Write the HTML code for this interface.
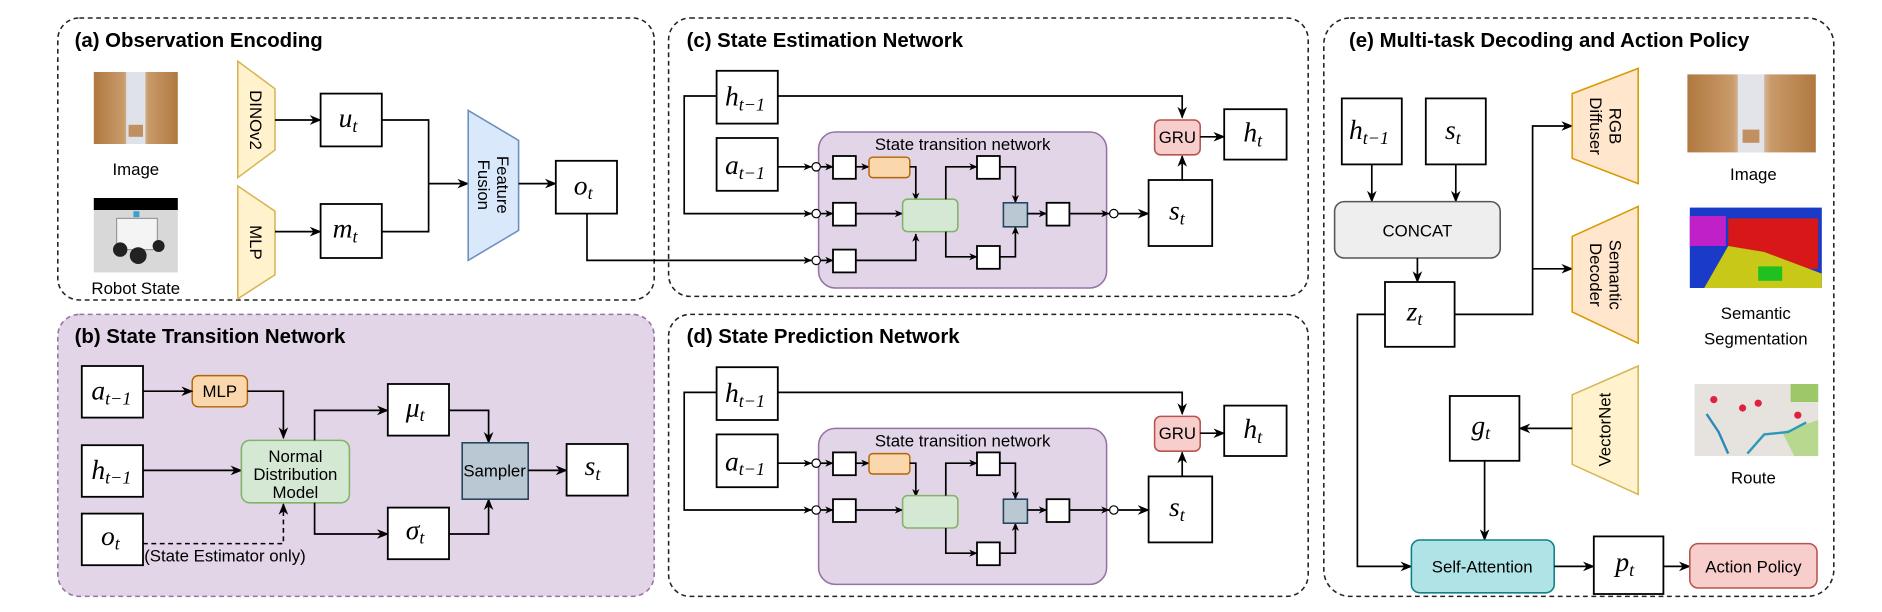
<!DOCTYPE html>
<html><head><meta charset="utf-8"><style>
html,body{margin:0;padding:0;background:#fff;}
svg{display:block;}
.t{font-family:"Liberation Sans",sans-serif;font-weight:bold;font-size:17px;fill:#000;}
.l{font-family:"Liberation Sans",sans-serif;font-size:14px;fill:#000;}
.m{font-family:"Liberation Serif",serif;font-style:italic;font-size:23px;fill:#000;}
.s{font-size:15px;}
.bx{fill:#fff;stroke:#000;stroke-width:1.5;}
.ln{fill:none;stroke:#000;stroke-width:1.4;}
</style></head><body>
<svg width="1882" height="612" viewBox="0 0 1568 510" xmlns="http://www.w3.org/2000/svg">
<defs>
<marker id="a" markerWidth="10" markerHeight="10" refX="9" refY="5" orient="auto" markerUnits="userSpaceOnUse">
<path d="M0,1 L10,5 L0,9 L3,5 Z" fill="#000"/></marker>
<marker id="sa" markerWidth="7" markerHeight="7" refX="6.5" refY="3.5" orient="auto" markerUnits="userSpaceOnUse">
<path d="M0,0.5 L7,3.5 L0,6.5 L2,3.5 Z" fill="#000"/></marker>
<linearGradient id="wh" x1="0" x2="1"><stop offset="0" stop-color="#b07840"/><stop offset="0.35" stop-color="#c99a6a"/><stop offset="0.5" stop-color="#e8eaee"/><stop offset="0.65" stop-color="#c99a6a"/><stop offset="1" stop-color="#b07840"/></linearGradient>
</defs>

<!-- Panel a -->
<rect x="48" y="15" width="497" height="235" rx="18" fill="none" stroke="#222" stroke-width="1.3" stroke-dasharray="4 3"/>
<text class="t" x="62" y="39">(a) Observation Encoding</text>
<rect x="78" y="60" width="70" height="60" fill="url(#wh)"/>
<rect x="105" y="60" width="16" height="60" fill="#dfe2e8"/>
<rect x="107" y="104" width="12" height="10" fill="#c09060"/>
<text class="l" x="113" y="146" text-anchor="middle" font-size="15">Image</text>
<rect x="78" y="165" width="70" height="62" fill="#d8d8d8"/>
<rect x="78" y="165" width="70" height="10" fill="#000"/>
<rect x="97" y="182" width="34" height="26" fill="#f4f4f4" stroke="#999"/>
<circle cx="100" cy="208" r="6" fill="#222"/><circle cx="115" cy="213" r="7" fill="#222"/><circle cx="132" cy="205" r="5" fill="#222"/>
<rect x="111" y="176" width="5" height="5" fill="#3aa0d0"/>
<text class="l" x="113" y="245" text-anchor="middle" font-size="15">Robot State</text>

<polygon points="198,51 229,74 229,125 198,148" fill="#fff2cc" stroke="#d6b656" stroke-width="1.3"/>
<text class="l" transform="translate(213,100) rotate(90)" text-anchor="middle" dy="5">DINOv2</text>
<polygon points="198,155 229,176 229,229 198,249" fill="#fff2cc" stroke="#d6b656" stroke-width="1.3"/>
<text class="l" transform="translate(213,202) rotate(90)" text-anchor="middle" dy="5">MLP</text>
<line class="ln" x1="229" y1="100" x2="267" y2="100" marker-end="url(#a)"/>
<line class="ln" x1="229" y1="193" x2="267" y2="193" marker-end="url(#a)"/>
<rect class="bx" x="267" y="78" width="51" height="44"/>
<text class="m" x="282" y="106">u<tspan class="s" dy="4">t</tspan></text>
<rect class="bx" x="267" y="170" width="51" height="45"/>
<text class="m" x="277" y="198">m<tspan class="s" dy="4">t</tspan></text>
<polyline class="ln" points="318,100 357,100 357,193 318,193"/>
<line class="ln" x1="357" y1="153" x2="390" y2="153" marker-end="url(#a)"/>
<polygon points="390,92 432,117 432,192 390,217" fill="#dae8fc" stroke="#6c8ebf" stroke-width="1.3"/>
<text class="l" transform="translate(411,154) rotate(90)" text-anchor="middle"><tspan x="0" dy="-3">Feature</tspan><tspan x="0" dy="16">Fusion</tspan></text>
<line class="ln" x1="432" y1="153" x2="463" y2="153" marker-end="url(#a)"/>
<rect class="bx" x="463" y="134" width="51" height="44"/>
<text class="m" x="478" y="162">o<tspan class="s" dy="4">t</tspan></text>
<polyline class="ln" points="489,178 489,217 676,217" marker-end="url(#sa)"/>

<!-- Panel b -->
<rect x="48" y="262" width="497" height="235" rx="18" fill="#e1d5e7" stroke="#9673a6" stroke-width="1.3" stroke-dasharray="4 3"/>
<text class="t" x="62" y="286">(b) State Transition Network</text>
<rect class="bx" x="68" y="305" width="51" height="43"/>
<text class="m" x="76" y="333">a<tspan class="s" dy="4">t−1</tspan></text>
<rect class="bx" x="68" y="371" width="51" height="43"/>
<text class="m" x="76" y="399">h<tspan class="s" dy="4">t−1</tspan></text>
<rect class="bx" x="68" y="428" width="51" height="43"/>
<text class="m" x="84" y="454">o<tspan class="s" dy="4">t</tspan></text>
<rect x="160" y="313" width="46" height="26" rx="5" fill="#fad7ac" stroke="#b46504" stroke-width="1.2"/>
<text class="l" x="183" y="331" text-anchor="middle">MLP</text>
<line class="ln" x1="119" y1="326" x2="160" y2="326" marker-end="url(#a)"/>
<polyline class="ln" points="206,326 236,326 236,365" marker-end="url(#a)"/>
<line class="ln" x1="119" y1="392" x2="201" y2="392" marker-end="url(#a)"/>
<polyline fill="none" stroke="#000" stroke-width="1.3" stroke-dasharray="4 3" points="119,453 236,453 236,420" marker-end="url(#a)"/>
<text class="l" x="120" y="468" font-size="13">(State Estimator only)</text>
<rect x="201" y="367" width="90" height="52" rx="7" fill="#d5e8d4" stroke="#82b366" stroke-width="1.3"/>
<text class="l" x="246" y="385" text-anchor="middle">Normal</text>
<text class="l" x="246" y="400" text-anchor="middle">Distribution</text>
<text class="l" x="246" y="415" text-anchor="middle">Model</text>
<polyline class="ln" points="262,367 262,342 323,342" marker-end="url(#a)"/>
<polyline class="ln" points="262,419 262,445 323,445" marker-end="url(#a)"/>
<rect class="bx" x="323" y="320" width="51" height="43"/>
<text class="m" x="338" y="347">μ<tspan class="s" dy="4">t</tspan></text>
<rect class="bx" x="323" y="423" width="51" height="43"/>
<text class="m" x="338" y="449">σ<tspan class="s" dy="4">t</tspan></text>
<polyline class="ln" points="374,342 407,342 407,369" marker-end="url(#a)"/>
<polyline class="ln" points="374,445 407,445 407,416" marker-end="url(#a)"/>
<rect x="385" y="369" width="55" height="47" fill="#bac8d3" stroke="#23445d" stroke-width="1.3"/>
<text class="l" x="412" y="397" text-anchor="middle">Sampler</text>
<line class="ln" x1="440" y1="392" x2="472" y2="392" marker-end="url(#a)"/>
<rect class="bx" x="472" y="370" width="51" height="43"/>
<text class="m" x="487" y="396">s<tspan class="s" dy="4">t</tspan></text>

<!-- Panel c -->
<rect x="557" y="15" width="533" height="232" rx="18" fill="none" stroke="#222" stroke-width="1.3" stroke-dasharray="4 3"/>
<text class="t" x="572" y="39">(c) State Estimation Network</text>
<g id="net">
<rect class="bx" x="597" y="59" width="51" height="44"/>
<text class="m" x="604" y="88">h<tspan class="s" dy="4">t−1</tspan></text>
<rect class="bx" x="597" y="115" width="51" height="44"/>
<text class="m" x="604" y="145">a<tspan class="s" dy="4">t−1</tspan></text>
<polyline class="ln" points="648,80 985,80 985,98" marker-end="url(#a)"/>
<rect x="682" y="110" width="240" height="130" rx="14" fill="#e1d5e7" stroke="#9673a6" stroke-width="1.3"/>
<text class="l" x="802" y="125" text-anchor="middle" font-size="13">State transition network</text>
<line class="ln" x1="648" y1="139" x2="676" y2="139" marker-end="url(#sa)"/>
<circle cx="680" cy="139" r="3.5" fill="#fff" stroke="#000"/>
<line class="ln" x1="684" y1="139" x2="694" y2="139" marker-end="url(#sa)"/>
<rect class="bx" x="694" y="130" width="19" height="19"/>
<line class="ln" x1="713" y1="139" x2="724" y2="139" marker-end="url(#sa)"/>
<rect x="724" y="131" width="34" height="17" rx="3" fill="#fad7ac" stroke="#b46504" stroke-width="1.2"/>
<polyline class="ln" points="758,139 763,139 763,167" marker-end="url(#sa)"/>
<line class="ln" x1="684" y1="178" x2="694" y2="178" marker-end="url(#sa)"/>
<rect class="bx" x="694" y="169" width="19" height="19"/>
<line class="ln" x1="713" y1="178" x2="752" y2="178" marker-end="url(#sa)"/>
<rect x="752" y="166" width="46" height="27" rx="4" fill="#d5e8d4" stroke="#82b366" stroke-width="1.3"/>
<polyline class="ln" points="788,166 788,139 814,139" marker-end="url(#sa)"/>
<polyline class="ln" points="788,193 788,214 814,214" marker-end="url(#sa)"/>
<rect class="bx" x="814" y="130" width="19" height="19"/>
<rect class="bx" x="814" y="205" width="19" height="19"/>
<polyline class="ln" points="833,139 846,139 846,169" marker-end="url(#sa)"/>
<polyline class="ln" points="833,214 846,214 846,189" marker-end="url(#sa)"/>
<rect x="836" y="169" width="20" height="20" fill="#bac8d3" stroke="#23445d" stroke-width="1.3"/>
<line class="ln" x1="856" y1="178" x2="872" y2="178" marker-end="url(#sa)"/>
<rect class="bx" x="872" y="169" width="19" height="19"/>
<line class="ln" x1="891" y1="178" x2="924" y2="178" marker-end="url(#sa)"/>
<circle cx="928" cy="178" r="3.5" fill="#fff" stroke="#000"/>
<line class="ln" x1="932" y1="178" x2="957" y2="178" marker-end="url(#a)"/>
<rect class="bx" x="957" y="150" width="53" height="55"/>
<text class="m" x="974" y="183">s<tspan class="s" dy="4">t</tspan></text>
<line class="ln" x1="985" y1="150" x2="985" y2="130" marker-end="url(#a)"/>
<rect x="962" y="100" width="38" height="29" rx="5" fill="#f8cecc" stroke="#b85450" stroke-width="1.3"/>
<text class="l" x="981" y="119" text-anchor="middle">GRU</text>
<line class="ln" x1="1000" y1="114" x2="1020" y2="114" marker-end="url(#a)"/>
<rect class="bx" x="1020" y="91" width="52" height="42"/>
<text class="m" x="1036" y="118">h<tspan class="s" dy="4">t</tspan></text>
</g>
<polyline class="ln" points="597,80 570,80 570,178 676,178" marker-end="url(#sa)"/>
<circle cx="680" cy="178" r="3.5" fill="#fff" stroke="#000"/>
<circle cx="680" cy="217" r="3.5" fill="#fff" stroke="#000"/>
<line class="ln" x1="684" y1="217" x2="694" y2="217" marker-end="url(#sa)"/>
<rect class="bx" x="694" y="208" width="19" height="19"/>
<polyline class="ln" points="713,217 763,217 763,195" marker-end="url(#sa)"/>

<!-- Panel d -->
<rect x="557" y="262" width="533" height="235" rx="18" fill="none" stroke="#222" stroke-width="1.3" stroke-dasharray="4 3"/>
<text class="t" x="572" y="286">(d) State Prediction Network</text>
<use href="#net" transform="translate(0,247)"/>
<polyline class="ln" points="597,327 570,327 570,425 676,425" marker-end="url(#sa)"/>
<circle cx="680" cy="425" r="3.5" fill="#fff" stroke="#000"/>

<!-- Panel e -->
<rect x="1103" y="15" width="425" height="482" rx="22" fill="none" stroke="#222" stroke-width="1.3" stroke-dasharray="4 3"/>
<text class="t" x="1124" y="39">(e) Multi-task Decoding and Action Policy</text>
<rect class="bx" x="1118" y="82" width="50" height="55"/>
<text class="m" x="1124" y="116">h<tspan class="s" dy="4">t−1</tspan></text>
<rect class="bx" x="1188" y="82" width="50" height="55"/>
<text class="m" x="1204" y="116">s<tspan class="s" dy="4">t</tspan></text>
<line class="ln" x1="1143" y1="137" x2="1143" y2="168" marker-end="url(#a)"/>
<line class="ln" x1="1213" y1="137" x2="1213" y2="168" marker-end="url(#a)"/>
<rect x="1112" y="168" width="138" height="47" rx="8" fill="#eeeeee" stroke="#555" stroke-width="1.3"/>
<text class="l" x="1181" y="197" text-anchor="middle">CONCAT</text>
<line class="ln" x1="1181" y1="215" x2="1181" y2="235" marker-end="url(#a)"/>
<rect class="bx" x="1154" y="235" width="58" height="54"/>
<text class="m" x="1172" y="267">z<tspan class="s" dy="4">t</tspan></text>
<polyline class="ln" points="1212,262 1277,262 1277,105 1310,105" marker-end="url(#a)"/>
<polyline class="ln" points="1277,224 1310,224" marker-end="url(#a)"/>
<polygon points="1310,78 1365,57 1365,153 1310,132" fill="#ffe6cc" stroke="#d79b00" stroke-width="1.3"/>
<text class="l" transform="translate(1337,105) rotate(90)" text-anchor="middle"><tspan x="0" dy="-4">RGB</tspan><tspan x="0" dy="16">Diffuser</tspan></text>
<polygon points="1310,197 1365,172 1365,286 1310,260" fill="#ffe6cc" stroke="#d79b00" stroke-width="1.3"/>
<text class="l" transform="translate(1337,229) rotate(90)" text-anchor="middle"><tspan x="0" dy="-4">Semantic</tspan><tspan x="0" dy="16">Decoder</tspan></text>
<polygon points="1310,329 1365,305 1365,412 1310,387" fill="#fff2cc" stroke="#d6b656" stroke-width="1.3"/>
<text class="l" transform="translate(1337,358) rotate(-90)" text-anchor="middle" dy="5">VectorNet</text>
<line class="ln" x1="1310" y1="357" x2="1266" y2="357" marker-end="url(#a)"/>
<rect class="bx" x="1208" y="330" width="58" height="54"/>
<text class="m" x="1226" y="362">g<tspan class="s" dy="4">t</tspan></text>
<line class="ln" x1="1237" y1="384" x2="1237" y2="450" marker-end="url(#a)"/>
<polyline class="ln" points="1154,262 1131,262 1131,472 1176,472" marker-end="url(#a)"/>
<rect x="1176" y="450" width="119" height="44" rx="7" fill="#b0e3e6" stroke="#0e8088" stroke-width="1.3"/>
<text class="l" x="1235" y="477" text-anchor="middle">Self-Attention</text>
<line class="ln" x1="1295" y1="472" x2="1328" y2="472" marker-end="url(#a)"/>
<rect class="bx" x="1328" y="447" width="58" height="48"/>
<text class="m" x="1346" y="476">p<tspan class="s" dy="4">t</tspan></text>
<line class="ln" x1="1386" y1="472" x2="1408" y2="472" marker-end="url(#a)"/>
<rect x="1408" y="453" width="106" height="37" rx="7" fill="#f8cecc" stroke="#b85450" stroke-width="1.3"/>
<text class="l" x="1461" y="477" text-anchor="middle">Action Policy</text>

<rect x="1406" y="62" width="107" height="65" fill="url(#wh)"/>
<rect x="1448" y="62" width="22" height="65" fill="#e2e4ea"/>
<rect x="1452" y="108" width="14" height="11" fill="#c09060"/>
<text class="l" x="1461" y="150" text-anchor="middle" font-size="16">Image</text>
<rect x="1408" y="173" width="110" height="67" fill="#1a3ac8"/>
<rect x="1408" y="180" width="30" height="25" fill="#c020c8"/>
<rect x="1440" y="182" width="75" height="42" fill="#d81818"/>
<polygon points="1420,240 1440,205 1470,210 1518,228 1518,240" fill="#c8c818"/>
<rect x="1465" y="222" width="20" height="12" fill="#20c020"/>
<text class="l" x="1463" y="266" text-anchor="middle" font-size="16">Semantic</text>
<text class="l" x="1463" y="287" text-anchor="middle" font-size="16">Segmentation</text>
<rect x="1412" y="320" width="103" height="60" fill="#e6e2de"/>
<rect x="1492" y="320" width="23" height="15" fill="#9cc868"/>
<polygon points="1485,360 1515,350 1515,380 1495,380" fill="#b8d890"/>
<polyline points="1422,345 1432,360 1440,378" fill="none" stroke="#2a8ab8" stroke-width="2"/>
<polyline points="1456,378 1470,362 1490,360 1505,352" fill="none" stroke="#2a9ab8" stroke-width="2"/>
<circle cx="1428" cy="333" r="3" fill="#e02040"/><circle cx="1452" cy="340" r="3" fill="#e02040"/><circle cx="1465" cy="336" r="3" fill="#e02040"/><circle cx="1498" cy="346" r="3" fill="#e02040"/>
<text class="l" x="1461" y="403" text-anchor="middle" font-size="16">Route</text>
</svg>
</body></html>
